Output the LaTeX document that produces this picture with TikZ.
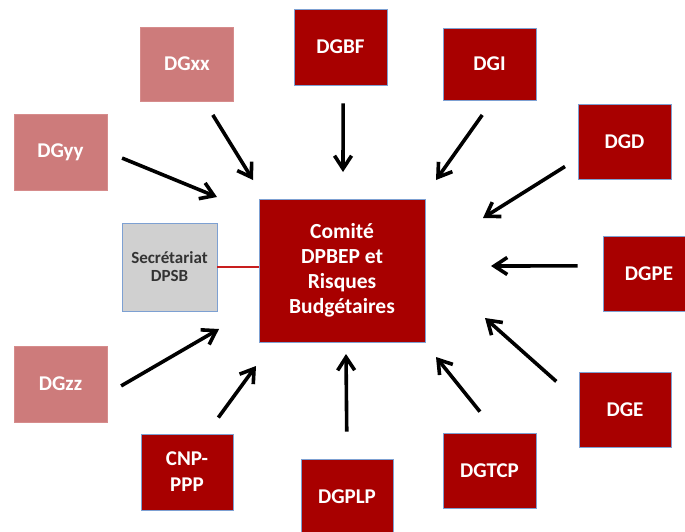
\documentclass[tikz,border=0pt]{standalone}
\usepackage{fontspec}
\setmainfont{Carlito}
\usetikzlibrary{arrows.meta}

\definecolor{dgred}{RGB}{168,0,0}
\definecolor{dglight}{RGB}{205,123,123}
\definecolor{dglightedge}{RGB}{214,140,140}
\definecolor{edgeblue}{RGB}{125,160,210}
\definecolor{secgray}{RGB}{208,208,208}
\definecolor{linkred}{RGB}{200,30,30}

\begin{document}
\begin{tikzpicture}[
        x=1pt, y=-1pt,
        dgbox/.style={rectangle, draw=edgeblue, line width=0.6pt, fill=dgred, text=white, align=center, font=\bfseries\fontsize{21}{26}\selectfont, minimum width=93pt, minimum height=75pt, inner sep=0pt},
        lightbox/.style={dgbox, draw=dglightedge, fill=dglight},
        secbox/.style={dgbox, fill=secgray, text=black!80, font=\bfseries\fontsize{17}{18}\selectfont, minimum width=95pt, minimum height=88pt},
        comitebox/.style={dgbox, font=\bfseries\fontsize{21.5}{25}\selectfont, minimum width=166pt, minimum height=143pt},
        arrow/.style={-{Straight Barb[length=13pt, width=17pt]}, line width=3.6pt, draw=black},
        link/.style={draw=linkred, line width=1.2pt}
    ]
        \clip (0,0) rectangle (685,531);

        % centre
        \node[comitebox] (comite) at (342,270.5) {Comité\\DPBEP et\\Risques\\Budgétaires};
        \node[secbox] (secr) at (169.5,267) {Secrétariat\\DPSB};

        % directions around the committee
        \node[lightbox, minimum height=74pt] (dgxx) at (187,64) {DGxx};
        \node[dgbox, minimum height=76pt] (dgbf) at (340.5,47) {DGBF};
        \node[dgbox, minimum height=72pt] (dgi) at (489.5,64) {DGI};
        \node[lightbox, minimum height=76pt] (dgyy) at (60.5,152) {DGyy};
        \node[dgbox] (dgd) at (624.5,141.5) {DGD};
        \node[dgbox, minimum width=92pt] (dgpe) at (649,274) {DGPE};
        \node[dgbox, minimum width=92pt] (dge) at (625,409.5) {DGE};
        \node[dgbox] (dgtcp) at (489.5,470.5) {DGTCP};
        \node[dgbox, minimum width=92pt] (dgplp) at (347,496.5) {DGPLP};
        \node[dgbox, minimum width=92pt, minimum height=76pt] (cnp) at (187,472) {CNP-\\PPP};
        \node[lightbox, minimum height=76pt] (dgzz) at (60.5,384) {DGzz};

        % arrow tips
        \coordinate (tipxx) at (253,180);
        \coordinate (tipbf) at (343,172);
        \coordinate (tipi) at (436,180);
        \coordinate (tipyy) at (217,197);
        \coordinate (tipd) at (483,218);
        \coordinate (tippe) at (491,266);
        \coordinate (tipe) at (485,318);
        \coordinate (tiptcp) at (436,357);
        \coordinate (tipplp) at (346,354);
        \coordinate (tipcnp) at (256,366);
        \coordinate (tipzz) at (219,329);

        \draw[link] (secr.east) -- (secr.east -| comite.west);

        \draw[arrow, shorten <=16pt] (dgxx.-65) -- (tipxx);
        \draw[arrow, shorten <=18pt] (dgbf.-86) -- (tipbf);
        \draw[arrow, shorten <=18pt] (dgi.-85) -- (tipi);
        \draw[arrow, shorten <=16pt] (dgyy.east) -- (tipyy);
        \draw[arrow, shorten <=15pt] (dgd.200) -- (tipd);
        \draw[arrow, shorten <=25pt] (dgpe.170) -- (tippe);
        \draw[arrow, shorten <=30pt] (dge.170) -- (tipe);
        \draw[arrow, shorten <=27pt] (dgtcp.79) -- (tiptcp);
        \draw[arrow, shorten <=27pt] (dgplp.north) -- (tipplp);
        \draw[arrow, shorten <=20pt] (cnp.63) -- (tipcnp);
        \draw[arrow, shorten <=16pt] (dgzz.-12) -- (tipzz);
    \end{tikzpicture}
\end{document}
